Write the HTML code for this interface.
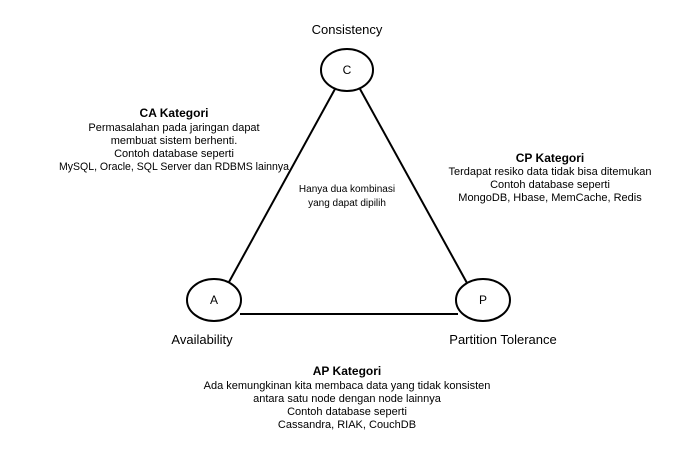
<!DOCTYPE html>
<html><head><style>
body{margin:0;width:700px;height:449px;background:#fff;overflow:hidden}
svg{font-family:"Liberation Sans",Arial,sans-serif}
</style></head><body>
<svg width="700" height="449" viewBox="0 0 700 449">
<g stroke="#000" stroke-width="2" fill="none">
<line x1="335" y1="89" x2="229" y2="282"/>
<line x1="360" y1="89" x2="467" y2="283"/>
<line x1="240" y1="314" x2="458" y2="314"/>
</g>
<g stroke="#000" stroke-width="2" fill="#fff">
<ellipse cx="347" cy="70" rx="26" ry="21"/>
<ellipse cx="214" cy="300" rx="27" ry="21"/>
<ellipse cx="483" cy="300" rx="27" ry="21"/>
</g>
<g font-size="12" text-anchor="middle" fill="#000">
<text x="347" y="74">C</text>
<text x="214" y="304">A</text>
<text x="483" y="304">P</text>
</g>
<g font-size="13" text-anchor="middle" fill="#000">
<text x="347" y="34">Consistency</text>
<text x="202" y="344">Availability</text>
<text x="503" y="344">Partition Tolerance</text>
</g>
<g font-size="11" text-anchor="middle" fill="#000">
<text x="174" y="117" font-weight="bold" font-size="12">CA Kategori</text>
<text x="174" y="131">Permasalahan pada jaringan dapat</text>
<text x="174" y="144">membuat sistem berhenti.</text>
<text x="174" y="157">Contoh database seperti</text>
<text x="174" y="170" textLength="230" lengthAdjust="spacingAndGlyphs">MySQL, Oracle, SQL Server dan RDBMS lainnya</text>
<text x="550" y="162" font-weight="bold" font-size="12">CP Kategori</text>
<text x="550" y="175">Terdapat resiko data tidak bisa ditemukan</text>
<text x="550" y="188">Contoh database seperti</text>
<text x="550" y="201">MongoDB, Hbase, MemCache, Redis</text>
<text x="347" y="375" font-weight="bold" font-size="12">AP Kategori</text>
<text x="347" y="389">Ada kemungkinan kita membaca data yang tidak konsisten</text>
<text x="347" y="402">antara satu node dengan node lainnya</text>
<text x="347" y="415">Contoh database seperti</text>
<text x="347" y="428">Cassandra, RIAK, CouchDB</text>
</g>
<g font-size="10" text-anchor="middle" fill="#000">
<text x="347" y="192">Hanya dua kombinasi</text>
<text x="347" y="206">yang dapat dipilih</text>
</g>
</svg>
</body></html>
